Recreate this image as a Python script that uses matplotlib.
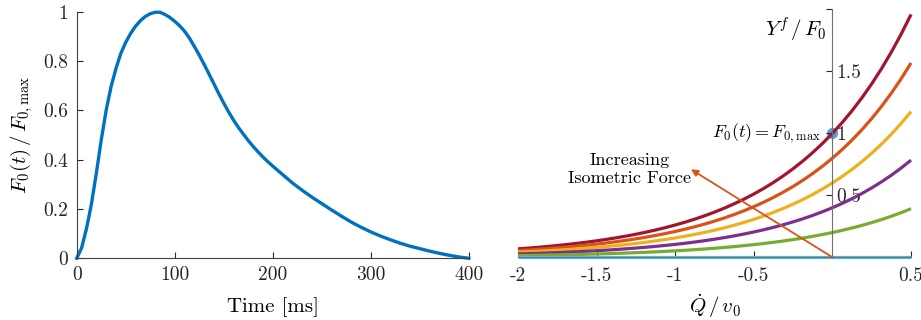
import matplotlib
matplotlib.use('Agg')
from matplotlib import pyplot as plt

plt.rcParams['font.family'] = ['cmr10', 'DejaVu Serif']
plt.rcParams['mathtext.fontset'] = 'cm'
plt.rcParams['axes.unicode_minus'] = False

# left panel: normalised isometric force over time
time_ms = [0, 5, 10, 15, 20, 25, 30, 35, 40, 45, 50, 55, 60, 65, 70, 75, 80,
           85, 90, 95, 100, 105, 110, 115, 120, 125, 130, 135, 140, 145, 150,
           155, 160, 165, 170, 175, 180, 185, 190, 195, 200, 205, 210, 215,
           220, 230, 240, 250, 260, 270, 280, 290, 300, 310, 320, 330, 340,
           350, 360, 370, 380, 390, 400]
force_norm = [0, 0.042, 0.121, 0.22, 0.345, 0.48, 0.60, 0.696, 0.77, 0.832,
              0.877, 0.913, 0.942, 0.965, 0.982, 0.993, 0.999, 0.999, 0.99,
              0.978, 0.962, 0.944, 0.922, 0.894, 0.860, 0.825, 0.787, 0.748,
              0.708, 0.668, 0.630, 0.594, 0.561, 0.531, 0.504, 0.478, 0.454,
              0.432, 0.411, 0.392, 0.374, 0.357, 0.340, 0.323, 0.306, 0.276,
              0.248, 0.222, 0.196, 0.171, 0.147, 0.126, 0.107, 0.090, 0.075,
              0.061, 0.049, 0.039, 0.029, 0.020, 0.012, 0.005, 0.0]

# right panel: force-velocity curve at F0 = F0,max, and the force levels
qdot = [-2, -1.9375, -1.875, -1.8125, -1.75, -1.6875, -1.625, -1.5625, -1.5,
        -1.4375, -1.375, -1.3125, -1.25, -1.1875, -1.125, -1.0625, -1,
        -0.9375, -0.875, -0.8125, -0.75, -0.6875, -0.625, -0.5625, -0.5,
        -0.4375, -0.375, -0.3125, -0.25, -0.1875, -0.125, -0.0625, 0,
        0.0625, 0.125, 0.1875, 0.25, 0.3125, 0.375, 0.4375, 0.5]
yf_max = [0.0678, 0.0737, 0.0802, 0.0872, 0.0949, 0.1032, 0.1123, 0.1221,
          0.1328, 0.1445, 0.1572, 0.1710, 0.1860, 0.2023, 0.2201, 0.2394,
          0.2604, 0.2833, 0.3081, 0.3352, 0.3646, 0.3966, 0.4314, 0.4693,
          0.5105, 0.5553, 0.6040, 0.6570, 0.7147, 0.7774, 0.8456, 0.9198,
          1.0, 1.0878, 1.1832, 1.2871, 1.4000, 1.5229, 1.6565, 1.8019, 1.96]
levels = [1.0, 0.8, 0.6, 0.4, 0.2, 0.0]
colors = ['#A2142F', '#D95319', '#EDB120', '#7E2F8E', '#77AC30', '#4DBEEE']

fig = plt.figure(figsize=(9.21, 3.2), dpi=100)

# ---- left plot
ax1 = fig.add_axes([0.0833, 0.193, 0.4257, 0.7695])
ax1.plot(time_ms, force_norm, color='#0072BD', lw=2.4, clip_on=False)
ax1.set_xlim(0, 400)
ax1.set_ylim(0, 1)
ax1.set_xticks([0, 100, 200, 300, 400])
ax1.set_yticks([0, 0.2, 0.4, 0.6, 0.8, 1])
ax1.set_yticklabels(['0', '0.2', '0.4', '0.6', '0.8', '1'])
for s in ['top', 'right']:
    ax1.spines[s].set_visible(False)
for s in ['left', 'bottom']:
    ax1.spines[s].set_color('#404040')
ax1.tick_params(direction='in', length=4, labelsize=14, colors='#262626',
                pad=6)
ax1.set_xlabel('Time [ms]', fontsize=15, labelpad=9)
ax1.set_ylabel(r'$F_0(t)\,/\,F_{0,\mathrm{max}}$', fontsize=15, labelpad=6)

# ---- right plot
ax2 = fig.add_axes([0.5624, 0.196, 0.4268, 0.7745])
ax2.plot([0], [1], 'o', color='#4DA3E0', ms=7, zorder=1)
for lev, c in zip(levels, colors):
    ax2.plot(qdot, [lev * v for v in yf_max], color=c, lw=2.3, zorder=2,
             solid_capstyle='butt', clip_on=False)
ax2.set_xlim(-2, 0.5)
ax2.set_ylim(0, 2)
ax2.spines['left'].set_visible(False)
ax2.spines['top'].set_visible(False)
ax2.spines['right'].set_position(('data', 0))
ax2.spines['right'].set_color('#707070')
ax2.spines['bottom'].set_color('#707070')
ax2.yaxis.tick_right()
ax2.set_yticks([0.5, 1, 1.5, 2])
ax2.set_yticklabels(['0.5', '1', '1.5', ''])
ax2.set_xticks([-2, -1.5, -1, -0.5, 0.5])
ax2.set_xticklabels(['-2', '-1.5', '-1', '-0.5', '0.5'])
ax2.tick_params(direction='in', length=4, labelsize=14, colors='#262626')
ax2.tick_params(axis='x', pad=7)
ax2.tick_params(axis='y', pad=3)
ax2.set_xlabel(r'$\dot{Q}\,/\,v_0$', fontsize=15, labelpad=5)

ax2.text(-0.04, 1.83, r'$Y^f\,/\,F_0$', fontsize=15, ha='right', va='center')
ax2.text(-0.07, 1.0, r'$F_0(t) = F_{0,\mathrm{max}}$', fontsize=13,
         ha='right', va='center')
ax2.text(-1.29, 0.71, 'Increasing\nIsometric Force', fontsize=13,
         ha='center', va='center', linespacing=1.2)
ax2.annotate('', xy=(-0.9, 0.71), xytext=(0, 0),
             arrowprops=dict(arrowstyle='-|>', color='#D95319', lw=1.3,
                             mutation_scale=10, shrinkA=0, shrinkB=0))

fig.savefig('out.png', dpi=100)
